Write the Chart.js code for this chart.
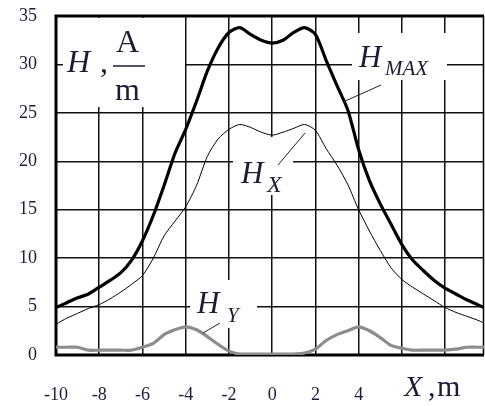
<!DOCTYPE html>
<html>
<head>
<meta charset="utf-8">
<script src="https://cdn.jsdelivr.net/npm/chart.js@4"></script>
<style>
  html, body { margin: 0; padding: 0; background: #fff; }
  #wrap { width: 485px; height: 406px; position: relative; }
</style>
</head>
<body>
<div id="wrap"><canvas id="chart"></canvas></div>
<script>
// Значения (X в метрах, H в А/м)
const X_VALUES = [-10, -9.5, -9, -8.5, -8, -7.5, -7, -6.5, -6, -5.5, -5, -4.5, -4, -3.5, -3, -2.5, -2, -1.5, -1, -0.5,
                  0, 0.5, 1, 1.5, 2, 2.5, 3, 3.5, 4, 4.5, 5, 5.5, 6, 6.5, 7, 7.5, 8, 8.5, 9, 9.5, 9.8];

const H_MAX = [4.9, 5.4, 5.9, 6.3, 7.0, 7.7, 8.5, 9.8, 11.8, 14.4, 17.5, 20.8, 23.3, 26.2, 29.3, 31.7, 33.3, 33.8, 33.1, 32.5,
               32.2, 32.5, 33.3, 33.8, 33.1, 30.4, 27.8, 25.3, 21.2, 18.0, 15.6, 13.5, 11.4, 9.8, 8.7, 7.7, 6.9, 6.3, 5.7, 5.2, 4.9];

const H_X = [3.2, 3.8, 4.3, 4.8, 5.2, 5.8, 6.5, 7.3, 8.2, 10.0, 12.3, 13.8, 15.3, 17.5, 20.5, 22.3, 23.3, 23.8, 23.5, 23.0,
             22.7, 23.0, 23.4, 23.8, 23.2, 21.3, 19.6, 17.6, 15.0, 12.8, 10.8, 9.0, 7.8, 7.0, 6.3, 5.6, 4.9, 4.4, 4.0, 3.6, 3.3];

const H_Y = [0.8, 0.8, 0.8, 0.5, 0.5, 0.5, 0.5, 0.5, 0.8, 1.2, 2.1, 2.6, 2.9, 2.6, 1.9, 1.1, 0.4, 0.1, 0.1, 0.1,
             0.1, 0.1, 0.1, 0.2, 0.6, 1.5, 2.1, 2.5, 2.9, 2.5, 1.8, 1.0, 0.7, 0.5, 0.5, 0.5, 0.5, 0.6, 0.8, 0.8, 0.8];

const X_MIN = -10, X_MAX = 9.8, X_STEP = 2;
const X_LABEL_MAX = 4;   // дальше подписи нет — там стоит "X, m"
const Y_MIN = 0, Y_MAX = 35, Y_STEP = 5;

const TEXT_COLOR = '#1c1c38';
const SERIF = '"Liberation Serif", "Times New Roman", serif';

function punkty(ys) {
    return X_VALUES.map((x, i) => ({ x: x, y: ys[i] }));
}

// подписи, белые подложки, рамка
const podpisi = {
    id: 'podpisi',
    beforeDatasetsDraw(chart) {
        const ctx = chart.ctx;
        const a = chart.chartArea;
        ctx.save();
        // белые подложки под надписями (рвут сетку)
        ctx.fillStyle = '#fff';
        ctx.fillRect(63, a.top + 2, 122, 107 - a.top - 2);
        ctx.fillRect(352, 33, 95, 47);
        ctx.fillRect(233, 137, 60, 58);
        ctx.fillRect(190, 280, 67, 48);

        // рамка
        ctx.strokeStyle = '#000';
        ctx.lineWidth = 3;
        ctx.beginPath();
        ctx.moveTo(a.right, a.top);
        ctx.lineTo(a.left, a.top);
        ctx.lineTo(a.left, a.bottom);
        ctx.lineTo(a.right, a.bottom);
        ctx.stroke();
        ctx.lineWidth = 1.5;
        ctx.beginPath();
        ctx.moveTo(a.right - 0.5, a.top);
        ctx.lineTo(a.right - 0.5, a.bottom);
        ctx.stroke();
        ctx.restore();
    },
    afterDatasetsDraw(chart) {
        const ctx = chart.ctx;
        ctx.save();
        ctx.fillStyle = TEXT_COLOR;
        ctx.textBaseline = 'alphabetic';
        ctx.textAlign = 'left';

        // H, A/m
        ctx.font = 'italic 32px ' + SERIF;
        ctx.fillText('H', 67, 72);
        ctx.font = '32px ' + SERIF;
        ctx.fillText(',', 100, 72);
        ctx.fillText('A', 116, 52);
        ctx.fillText('m', 115, 100);
        ctx.strokeStyle = TEXT_COLOR;
        ctx.lineWidth = 1.5;
        ctx.beginPath();
        ctx.moveTo(113, 66);
        ctx.lineTo(145, 66);
        ctx.stroke();

        // H_MAX
        ctx.font = 'italic 31px ' + SERIF;
        ctx.fillText('H', 359, 67);
        ctx.font = 'italic 21px ' + SERIF;
        ctx.fillText('MAX', 385, 75);

        // H_X
        ctx.font = 'italic 31px ' + SERIF;
        ctx.fillText('H', 241, 183);
        ctx.font = 'italic 24px ' + SERIF;
        ctx.fillText('X', 267, 192);

        // H_Y
        ctx.font = 'italic 31px ' + SERIF;
        ctx.fillText('H', 197, 313);
        ctx.font = 'italic 21px ' + SERIF;
        ctx.fillText('Y', 227, 322);

        // X, m
        ctx.font = 'italic 30px ' + SERIF;
        ctx.fillText('X', 404, 396);
        ctx.font = '30px ' + SERIF;
        ctx.fillText(',', 428, 396);
        ctx.fillText('m', 437, 396);

        // выноски
        ctx.strokeStyle = '#222';
        ctx.lineWidth = 1;
        ctx.beginPath();
        ctx.moveTo(343, 102); ctx.lineTo(381, 85);
        ctx.moveTo(278, 165); ctx.lineTo(305, 133);
        ctx.moveTo(203, 333); ctx.lineTo(220, 323);
        ctx.stroke();
        ctx.restore();
    }
};

const ctx = document.getElementById('chart').getContext('2d');
const grafik = new Chart(ctx, {
    type: 'line',
    data: {
        datasets: [
            {
                label: 'H_MAX',
                data: punkty(H_MAX),
                borderColor: '#000',
                borderWidth: 3.2,
                pointRadius: 0,
                tension: 0.25
            },
            {
                label: 'H_X',
                data: punkty(H_X),
                borderColor: '#000',
                borderWidth: 1,
                pointRadius: 0,
                tension: 0.25
            },
            {
                label: 'H_Y',
                data: punkty(H_Y),
                borderColor: '#8c8c8c',
                borderWidth: 3.2,
                pointRadius: 0,
                tension: 0.25
            }
        ]
    },
    options: {
        responsive: true,
        maintainAspectRatio: false,
        animation: false,
        layout: { padding: { top: 16, right: 1, left: 0, bottom: 0 } },
        plugins: {
            legend: { display: false },
            tooltip: { enabled: false }
        },
        scales: {
            x: {
                type: 'linear',
                min: X_MIN,
                max: X_MAX,
                border: { display: false },
                grid: { color: '#111', lineWidth: 1.5, drawTicks: false },
                ticks: {
                    stepSize: X_STEP,
                    includeBounds: false,
                    padding: 29,
                    color: TEXT_COLOR,
                    font: { family: SERIF, size: 18 },
                    maxRotation: 0,
                    callback: v => (v > X_LABEL_MAX ? '' : v)
                },
                afterFit(scale) {
                    scale.height = 51;
                    scale.paddingLeft = 0;
                    scale.paddingRight = 0;
                }
            },
            y: {
                min: Y_MIN,
                max: Y_MAX,
                border: { display: false },
                grid: { color: '#111', lineWidth: 1.5, drawTicks: false },
                ticks: {
                    stepSize: Y_STEP,
                    padding: 19,
                    color: TEXT_COLOR,
                    font: { family: SERIF, size: 18 }
                },
                afterFit(scale) {
                    scale.width = 56;
                    scale.paddingTop = 0;
                    scale.paddingBottom = 0;
                }
            }
        }
    },
    plugins: [podpisi]
});
</script>
</body>
</html>
